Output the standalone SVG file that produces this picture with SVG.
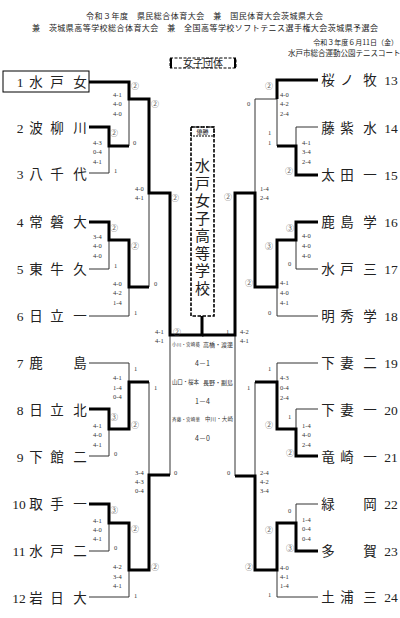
<svg xmlns="http://www.w3.org/2000/svg" width="400" height="618" viewBox="0 0 400 618">
<style>
.th{stroke:#000;stroke-width:3;fill:none}
.tn{stroke:#333;stroke-width:1;fill:none}
.nm{font-family:"Liberation Serif","Noto Sans CJK JP",serif;font-size:13.5px;fill:#222;text-anchor:middle;dominant-baseline:central}
.sc{font-family:"Liberation Serif",serif;font-size:6.5px;fill:#333;dominant-baseline:central}
.ci{font-family:"Noto Sans CJK JP",sans-serif;font-size:8px;fill:#666;text-anchor:middle;dominant-baseline:central}
.hd{font-family:"Noto Sans CJK JP",sans-serif;fill:#222}
.tb{font-family:"Noto Sans CJK JP",sans-serif;fill:#333;dominant-baseline:central}
</style>
<rect width="400" height="618" fill="#fff"/>
<g id="header">
<text class="hd" x="86" y="19" font-size="8" textLength="237" lengthAdjust="spacing">令和３年度　県民総合体育大会　兼　国民体育大会茨城県大会</text>
<text class="hd" x="32" y="31" font-size="8" textLength="346" lengthAdjust="spacing">兼　茨城県高等学校総合体育大会　兼　全国高等学校ソフトテニス選手権大会茨城県予選会</text>
<text class="hd" x="398" y="45" font-size="7" text-anchor="end">令和３年度６月11日（金）</text>
<text class="hd" x="288" y="55.5" font-size="7.5">水戸市総合運動公園テニスコート</text>
</g>
<g id="title">
<rect x="170" y="58" width="66" height="10" fill="#fff" stroke="#000" stroke-width="1" stroke-dasharray="3 1.5"/>
<path d="M171,58V68M235,58V68" stroke="#000" stroke-width="2"/>
<text class="hd" x="203" y="67" font-size="10" text-anchor="middle">女子団体</text>
</g>
<g id="connectors">
<path class="tn" d="M129,99V146M89,173H109V146M89,269H109V240M89,316H129V287M149,193V287M170,335V475M89,363H129V382M89,456H109V429M149,382V475M89,551H109V523M89,597H129V570"/>
<path class="tn" d="M277,99V146M277,99H255V193M318,127H296V146M318,269H296V240M318,316H277V287M235,335V476M318,363H277V382M318,409H296V429M255,382V476M318,504H296V523M318,597H277V570"/>
<path class="th" d="M89,82H129V99H149V193H170V335H202V316"/>
<path class="th" d="M89,127H109V146H129"/>
<path class="th" d="M89,222H109V240H129V287H149"/>
<path class="th" d="M89,409H109V429H129V382H149"/>
<path class="th" d="M89,504H109V523H129V570H149V475H170"/>
<path class="th" d="M318,80H277V99"/>
<path class="th" d="M318,175H296V146H277"/>
<path class="th" d="M318,222H296V240H277V287H255V193H235V335H202"/>
<path class="th" d="M318,456H296V429H277V382H255"/>
<path class="th" d="M318,551H296V523H277V570H255V476H235"/>
</g>
<g id="champion">
<rect x="191" y="127" width="23" height="189" fill="#fff" stroke="#000" stroke-width="1.6" stroke-dasharray="3.5 1.5"/>
<rect x="191" y="127" width="23" height="9" fill="none" stroke="#000" stroke-width="1" stroke-dasharray="2 1"/>
<text class="hd" x="202.5" y="134" font-size="6" text-anchor="middle">優勝</text>
<text class="hd" x="202.5" y="158" font-size="15" writing-mode="vertical-rl" letter-spacing="2.5">水戸女子高等学校</text>
</g>
<g id="t1"><rect x="3" y="71" width="86" height="21" fill="none" stroke="#000" stroke-width="1"/><text class="nm" y="82"><tspan x="20">1</tspan><tspan x="36">水</tspan><tspan x="57">戸</tspan><tspan x="80">女</tspan></text></g>
<g id="t2"><text class="nm" y="128"><tspan x="20">2</tspan><tspan x="36">波</tspan><tspan x="57">柳</tspan><tspan x="80">川</tspan></text></g>
<g id="t3"><text class="nm" y="174"><tspan x="20">3</tspan><tspan x="36">八</tspan><tspan x="57">千</tspan><tspan x="80">代</tspan></text></g>
<g id="t4"><text class="nm" y="222"><tspan x="20">4</tspan><tspan x="36">常</tspan><tspan x="57">磐</tspan><tspan x="80">大</tspan></text></g>
<g id="t5"><text class="nm" y="269"><tspan x="20">5</tspan><tspan x="36">東</tspan><tspan x="57">牛</tspan><tspan x="80">久</tspan></text></g>
<g id="t6"><text class="nm" y="316"><tspan x="20">6</tspan><tspan x="36">日</tspan><tspan x="57">立</tspan><tspan x="80">一</tspan></text></g>
<g id="t7"><text class="nm" y="363"><tspan x="20">7</tspan><tspan x="36">鹿</tspan><tspan x="80">島</tspan></text></g>
<g id="t8"><text class="nm" y="410"><tspan x="20">8</tspan><tspan x="36">日</tspan><tspan x="57">立</tspan><tspan x="80">北</tspan></text></g>
<g id="t9"><text class="nm" y="457"><tspan x="20">9</tspan><tspan x="36">下</tspan><tspan x="57">館</tspan><tspan x="80">二</tspan></text></g>
<g id="t10"><text class="nm" y="504"><tspan x="19">10</tspan><tspan x="36">取</tspan><tspan x="57">手</tspan><tspan x="80">一</tspan></text></g>
<g id="t11"><text class="nm" y="551"><tspan x="19">11</tspan><tspan x="36">水</tspan><tspan x="57">戸</tspan><tspan x="80">二</tspan></text></g>
<g id="t12"><text class="nm" y="598"><tspan x="19">12</tspan><tspan x="36">岩</tspan><tspan x="57">日</tspan><tspan x="80">大</tspan></text></g>
<g id="t13"><text class="nm" y="80"><tspan x="328">桜</tspan><tspan x="347">ノ</tspan><tspan x="370">牧</tspan><tspan x="391">13</tspan></text></g>
<g id="t14"><text class="nm" y="128"><tspan x="328">藤</tspan><tspan x="347">紫</tspan><tspan x="370">水</tspan><tspan x="391">14</tspan></text></g>
<g id="t15"><text class="nm" y="175"><tspan x="328">太</tspan><tspan x="347">田</tspan><tspan x="370">一</tspan><tspan x="391">15</tspan></text></g>
<g id="t16"><text class="nm" y="222"><tspan x="328">鹿</tspan><tspan x="347">島</tspan><tspan x="370">学</tspan><tspan x="391">16</tspan></text></g>
<g id="t17"><text class="nm" y="269"><tspan x="328">水</tspan><tspan x="347">戸</tspan><tspan x="370">三</tspan><tspan x="391">17</tspan></text></g>
<g id="t18"><text class="nm" y="316"><tspan x="328">明</tspan><tspan x="347">秀</tspan><tspan x="370">学</tspan><tspan x="391">18</tspan></text></g>
<g id="t19"><text class="nm" y="363"><tspan x="328">下</tspan><tspan x="347">妻</tspan><tspan x="370">二</tspan><tspan x="391">19</tspan></text></g>
<g id="t20"><text class="nm" y="410"><tspan x="328">下</tspan><tspan x="347">妻</tspan><tspan x="370">一</tspan><tspan x="391">20</tspan></text></g>
<g id="t21"><text class="nm" y="457"><tspan x="328">竜</tspan><tspan x="347">崎</tspan><tspan x="370">一</tspan><tspan x="391">21</tspan></text></g>
<g id="t22"><text class="nm" y="504"><tspan x="328">緑</tspan><tspan x="370">岡</tspan><tspan x="391">22</tspan></text></g>
<g id="t23"><text class="nm" y="551"><tspan x="328">多</tspan><tspan x="370">賀</tspan><tspan x="391">23</tspan></text></g>
<g id="t24"><text class="nm" y="597"><tspan x="328">土</tspan><tspan x="347">浦</tspan><tspan x="370">三</tspan><tspan x="391">24</tspan></text></g>
<g id="marks">
<text class="ci" x="135" y="85">②</text><text class="ci" x="155" y="103">②</text><text class="ci" x="114" y="132">②</text>
<text class="ci" x="175" y="197">②</text><text class="ci" x="114" y="227">②</text><text class="ci" x="135" y="245">②</text>
<text class="ci" x="177" y="331">②</text><text class="ci" x="114" y="416">③</text><text class="ci" x="135" y="424">②</text>
<text class="ci" x="114" y="509">③</text><text class="ci" x="135" y="528">②</text><text class="ci" x="155" y="566">②</text>
<text class="ci" x="269" y="85">②</text><text class="ci" x="289" y="170">②</text><text class="ci" x="228" y="196">②</text>
<text class="ci" x="290" y="227">③</text><text class="ci" x="269" y="245">③</text><text class="ci" x="249" y="282">②</text>
<text class="ci" x="269" y="424">②</text><text class="ci" x="290" y="452">②</text><text class="ci" x="269" y="529">②</text>
<text class="ci" x="290" y="547">③</text><text class="ci" x="249" y="566">②</text>
</g>
<g id="scores" class="sc">
<text x="133" y="142">0</text><text x="114" y="170">1</text><text x="114" y="265">1</text><text x="154" y="283">0</text><text x="134" y="312">1</text>
<text x="134" y="368">1</text><text x="154" y="387">1</text><text x="114" y="453">0</text><text x="174" y="472">0</text><text x="114" y="547">0</text><text x="134" y="595">1</text>
<text x="247" y="103">0</text><text x="268" y="132">1</text><text x="268" y="142">1</text><text x="288" y="263">0</text><text x="268" y="312">0</text>
<text x="226" y="331">1</text><text x="268" y="368">1</text><text x="247" y="387">1</text><text x="288" y="416">1</text><text x="227" y="472">0</text><text x="288" y="510">0</text><text x="268" y="594">1</text>
<text x="113" y="94">4-1</text><text x="113" y="103">4-0</text><text x="113" y="113">4-0</text>
<text x="93" y="142">4-3</text><text x="93" y="151">0-4</text><text x="93" y="161">4-1</text>
<text x="135" y="188">4-0</text><text x="135" y="197">4-1</text>
<text x="93" y="236">3-4</text><text x="93" y="245">4-0</text><text x="93" y="255">4-0</text>
<text x="113" y="283">4-0</text><text x="113" y="292">4-2</text><text x="113" y="302">1-4</text>
<text x="155" y="331">4-1</text><text x="155" y="340">4-1</text>
<text x="113" y="377">4-1</text><text x="113" y="387">1-4</text><text x="113" y="396">0-4</text>
<text x="93" y="425">4-1</text><text x="93" y="434">4-0</text><text x="93" y="444">4-1</text>
<text x="135" y="472">3-4</text><text x="135" y="481">4-3</text><text x="135" y="490">0-4</text>
<text x="93" y="520">4-1</text><text x="93" y="529">4-0</text><text x="93" y="538">4-1</text>
<text x="113" y="566">4-2</text><text x="113" y="576">3-4</text><text x="113" y="585">4-1</text>
<text x="280" y="94">4-0</text><text x="280" y="103">4-2</text><text x="280" y="113">2-4</text>
<text x="302" y="142">4-1</text><text x="302" y="151">3-4</text><text x="302" y="161">2-4</text>
<text x="260" y="188">1-4</text><text x="260" y="197">2-4</text>
<text x="302" y="235">4-0</text><text x="302" y="245">4-0</text><text x="302" y="255">4-0</text>
<text x="280" y="282">4-1</text><text x="280" y="292">4-0</text><text x="280" y="302">4-1</text>
<text x="240" y="331">4-2</text><text x="240" y="340">4-1</text>
<text x="280" y="377">4-3</text><text x="280" y="387">0-4</text><text x="280" y="397">2-4</text>
<text x="302" y="425">1-4</text><text x="302" y="434">4-0</text><text x="302" y="444">2-4</text>
<text x="260" y="472">2-4</text><text x="260" y="481">4-2</text><text x="260" y="490">3-4</text>
<text x="302" y="519">1-4</text><text x="302" y="528">0-4</text><text x="302" y="538">0-4</text>
<text x="280" y="567">4-0</text><text x="280" y="576">4-1</text><text x="280" y="585">1-4</text>
</g>
<g id="final-table">
<text class="tb" x="172" y="344" font-size="4.5" fill="#555" textLength="28">小川・宮崎葵</text>
<text class="tb" x="203" y="344" font-size="6" textLength="30">高橋・渡邊</text>
<text class="tb" x="202.5" y="363" font-size="7" text-anchor="middle">4－1</text>
<text class="tb" x="172" y="382" font-size="5.5" fill="#555" textLength="27">山口・桜本</text>
<text class="tb" x="203" y="382" font-size="6" textLength="30">長野・副島</text>
<text class="tb" x="202.5" y="401" font-size="7" text-anchor="middle">1－4</text>
<text class="tb" x="172" y="419" font-size="4.5" fill="#555" textLength="28">斉藤・宮崎華</text>
<text class="tb" x="205" y="419" font-size="5.5" textLength="28">中川・大崎</text>
<text class="tb" x="202.5" y="438" font-size="7" text-anchor="middle">4－0</text>
</g>
</svg>
